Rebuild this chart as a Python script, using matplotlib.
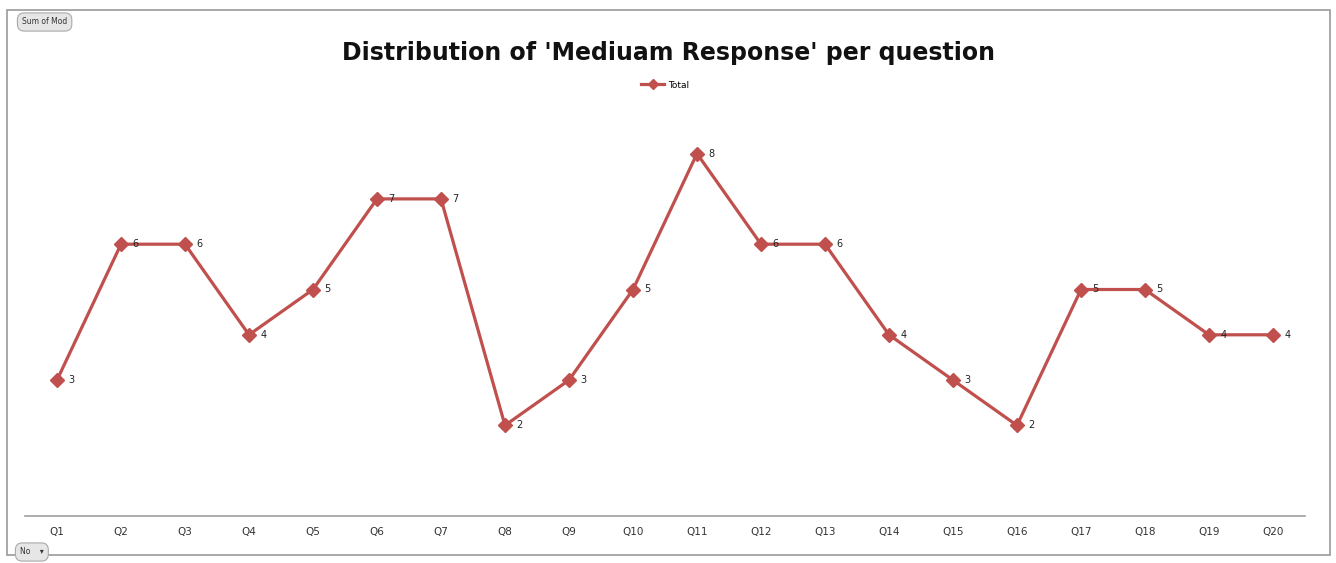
import matplotlib.pyplot as plt
from matplotlib.patches import Rectangle

# --- data ---
questions = ['Q1', 'Q2', 'Q3', 'Q4', 'Q5', 'Q6', 'Q7', 'Q8', 'Q9', 'Q10',
             'Q11', 'Q12', 'Q13', 'Q14', 'Q15', 'Q16', 'Q17', 'Q18', 'Q19', 'Q20']
totals = [3, 6, 6, 4, 5, 7, 7, 2, 3, 5, 8, 6, 6, 4, 3, 2, 5, 5, 4, 4]

line_color = '#C0504D'

fig = plt.figure(figsize=(13.36, 5.63), dpi=100)

# outer chart border
fig.patches.append(Rectangle((7 / 1336, 8 / 563), 1323 / 1336, 545 / 563,
                             transform=fig.transFigure, fill=False,
                             edgecolor='#9a9a9a', linewidth=1.2))

ax = fig.add_axes([25 / 1336, 47 / 563, 1280 / 1336, 453 / 563])
x = list(range(len(questions)))
ax.plot(x, totals, color=line_color, linewidth=2.3, marker='D',
        markersize=7, label='Total')

for xi, v in zip(x, totals):
    ax.annotate(str(v), (xi, v), xytext=(8, 0), textcoords='offset points',
                va='center', ha='left', fontsize=7, color='#222222')

ax.set_xlim(-0.5, len(questions) - 0.5)
ax.set_ylim(0, 10)
ax.set_xticks(x)
ax.set_xticklabels(questions, fontsize=7.5, color='#333333')
ax.tick_params(axis='x', length=0, pad=8)
ax.set_yticks([])
for side in ['top', 'right', 'left']:
    ax.spines[side].set_visible(False)
ax.spines['bottom'].set_color('#a0a0a0')
ax.spines['bottom'].set_linewidth(1.2)

fig.text(0.5, 1 - 53 / 563, "Distribution of 'Mediuam Response' per question",
         ha='center', va='center', fontsize=17, fontweight='bold', color='#111111')

ax.legend(loc='center', bbox_to_anchor=(0.5, (516 - 85) / 453), frameon=False,
          fontsize=6.5, handlelength=2.6, markerscale=0.7, handletextpad=0.4)

# field buttons of the pivot chart
fig.text(22 / 1336, 1 - 22 / 563, 'Sum of Mod', fontsize=5.5, color='#333333',
         va='center', ha='left',
         bbox=dict(boxstyle='round,pad=0.6,rounding_size=0.9', facecolor='#e6e6e6',
                   edgecolor='#aaaaaa', linewidth=0.8))
fig.text(20 / 1336, 1 - 552 / 563, 'No    \u25be', fontsize=5.5, color='#333333',
         va='center', ha='left',
         bbox=dict(boxstyle='round,pad=0.6,rounding_size=0.9', facecolor='#e6e6e6',
                   edgecolor='#aaaaaa', linewidth=0.8))

fig.savefig('out.png', dpi=100)
